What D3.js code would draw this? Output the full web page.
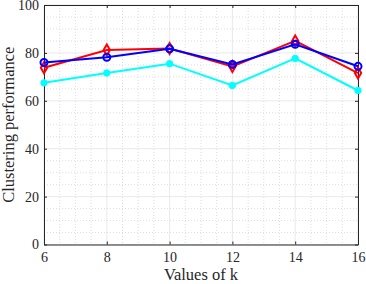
<!DOCTYPE html>
<meta charset="utf-8">
<script src="https://d3js.org/d3.v7.min.js"></script>
<style>
  body { margin: 0; background: #fff; }
  text { font-family: "Liberation Serif", "Times New Roman", serif; fill: #262626; }
</style>
<div id="chart"></div>
<script>
// data
var kValues = [6, 8, 10, 12, 14, 16];
var redSeries = [73.8, 81.2, 81.8, 74.3, 85.0, 71.6];
var blueSeries = [76.0, 78.2, 81.7, 75.2, 83.6, 74.4];
var cyanSeries = [67.5, 71.6, 75.5, 66.4, 77.7, 64.3];
var yTicks = [0, 20, 40, 60, 80, 100];

var W = 366, H = 284;
var margin = {top: 5, right: 8, bottom: 39.5, left: 44};
var width = W - margin.left - margin.right,
    height = H - margin.top - margin.bottom;

var svg = d3.select("#chart").append("svg")
    .attr("width", W).attr("height", H);
var g = svg.append("g")
    .attr("transform", "translate(" + margin.left + "," + margin.top + ")");

var x = d3.scaleLinear().domain([6, 16]).range([0, width]);
var y = d3.scaleLinear().domain([0, 100]).range([height, 0]);

// minor grid (dotted)
var xMinor = d3.range(6, 16.01, 0.5).filter(function(v) { return v % 2 !== 0; });
var yMinor = d3.range(0, 100.01, 5).filter(function(v) { return v % 20 !== 0; });
g.selectAll(".xminor").data(xMinor).enter().append("line")
    .attr("x1", d => x(d)).attr("x2", d => x(d)).attr("y1", 0).attr("y2", height)
    .attr("stroke", "#d6d6d6").attr("stroke-width", 0.8).attr("stroke-dasharray", "1,2");
g.selectAll(".yminor").data(yMinor).enter().append("line")
    .attr("y1", d => y(d)).attr("y2", d => y(d)).attr("x1", 0).attr("x2", width)
    .attr("stroke", "#d6d6d6").attr("stroke-width", 0.8).attr("stroke-dasharray", "1,2");

// major grid
g.selectAll(".xmajor").data(kValues).enter().append("line")
    .attr("x1", d => x(d)).attr("x2", d => x(d)).attr("y1", 0).attr("y2", height)
    .attr("stroke", "#e3e3e3").attr("stroke-width", 0.8);
g.selectAll(".ymajor").data(yTicks).enter().append("line")
    .attr("y1", d => y(d)).attr("y2", d => y(d)).attr("x1", 0).attr("x2", width)
    .attr("stroke", "#e3e3e3").attr("stroke-width", 0.8);

// axes (ticks point inward like matlab)
g.append("g").attr("transform", "translate(0," + height + ")")
    .call(d3.axisBottom(x).tickValues(kValues).tickSizeInner(-3).tickSizeOuter(0).tickPadding(8));
g.append("g")
    .call(d3.axisLeft(y).tickValues(yTicks).tickSizeInner(-3).tickSizeOuter(0).tickPadding(5));
g.append("g")
    .call(d3.axisTop(x).tickValues(kValues).tickSizeInner(-3).tickSizeOuter(0).tickFormat(""));
g.append("g").attr("transform", "translate(" + width + ",0)")
    .call(d3.axisRight(y).tickValues(yTicks).tickSizeInner(-3).tickSizeOuter(0).tickFormat(""));
g.selectAll(".domain").attr("stroke", "#262626");
g.selectAll(".tick line").attr("stroke", "#262626");
g.selectAll(".tick text").style("font-size", "14px").attr("fill", "#262626");

var line = d3.line().x((d, i) => x(kValues[i])).y(d => y(d));

function drawSeries(vals, color, marker) {
  g.append("path").datum(vals)
      .attr("d", line).attr("fill", "none")
      .attr("stroke", color).attr("stroke-width", 2);
  var pts = g.selectAll(null).data(vals).enter();
  if (marker === "diamond") {
    pts.append("path")
      .attr("d", d3.symbol().type(d3.symbolDiamond).size(35))
      .attr("transform", (d, i) => "translate(" + x(kValues[i]) + "," + y(d) + ")")
      .attr("fill", "none").attr("stroke", color).attr("stroke-width", 2);
  } else if (marker === "circle") {
    pts.append("circle")
      .attr("cx", (d, i) => x(kValues[i])).attr("cy", d => y(d)).attr("r", 3.5)
      .attr("fill", "none").attr("stroke", color).attr("stroke-width", 2);
  } else {
    pts.append("circle")
      .attr("cx", (d, i) => x(kValues[i])).attr("cy", d => y(d)).attr("r", 3.2)
      .attr("fill", color).attr("stroke", color);
  }
}

drawSeries(cyanSeries, "#00ffff", "dot");
drawSeries(redSeries, "#ff0000", "diamond");
drawSeries(blueSeries, "#0000ff", "circle");

// axis labels
svg.append("text")
    .attr("x", margin.left + width / 2).attr("y", 280)
    .attr("text-anchor", "middle").style("font-size", "16.5px")
    .text("Values of k");
svg.append("text")
    .attr("transform", "translate(14," + (margin.top + height / 2) + ") rotate(-90)")
    .attr("text-anchor", "middle").style("font-size", "16.5px")
    .text("Clustering performance");
</script>
